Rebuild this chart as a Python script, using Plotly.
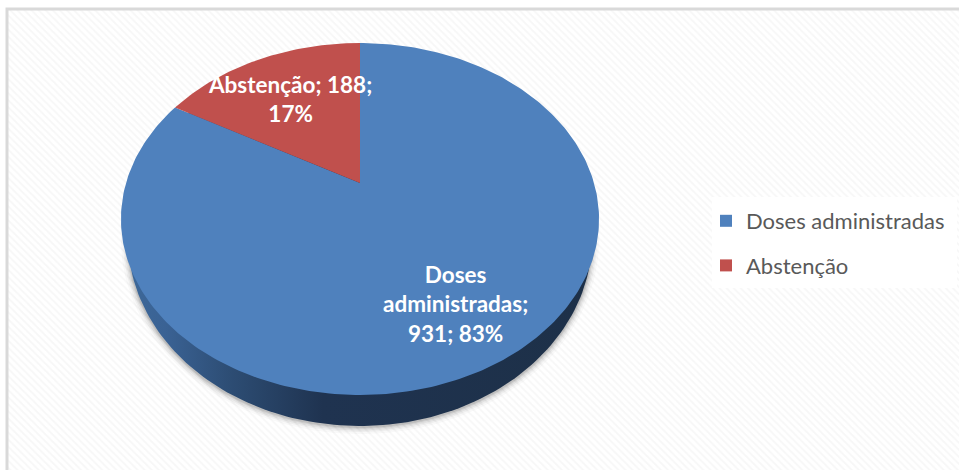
import numpy as np
import plotly.graph_objects as go

categories = ["Doses administradas", "Abstenção"]
values = [931, 188]
colors = ["#4f81bd", "#c0504d"]
label_pos = [(455, 304), (290, 99)]
label_text = ["Doses<br>administradas;<br>{v}; {p}%", "Abstenção; {v};<br>{p}%"]

W, H = 959, 470
APEX = (360, 183)
A, B, K = 234.0, 168.6, 0.2045


def project(theta):
    u, v = np.sin(theta), np.cos(theta)
    d = 1 + K * v
    return APEX[0] + A * u / d, APEX[1] - B * v / d


def ellipse(cx, cy, a, b, n=240):
    t = np.linspace(0, 2 * np.pi, n)
    return cx + a * np.cos(t), cy + b * np.sin(t)


fig = go.Figure()

# hatched chart area
fig.add_trace(go.Scatter(
    x=[8, W + 2, W + 2, 8, 8], y=[10, 10, H + 2, H + 2, 10], mode="lines",
    line=dict(width=0), fill="toself", fillcolor="#ffffff",
    fillpattern=dict(shape="\\", fgcolor="#efefef", bgcolor="#ffffff", size=5, solidity=0.35),
    hoverinfo="skip", showlegend=False))

# soft shadow
for grow, alpha in [(7, 0.03), (5, 0.05), (3.5, 0.07), (2, 0.09), (1, 0.12)]:
    sx, sy = ellipse(360, 240, 232 + grow, 187 + grow)
    fig.add_trace(go.Scatter(x=sx, y=sy, mode="lines", line=dict(width=0), fill="toself",
                             fillcolor=f"rgba(60,60,60,{alpha})", hoverinfo="skip", showlegend=False))

# side wall
wx, wy = ellipse(360, 239, 232, 187)
fig.add_trace(go.Scatter(
    x=wx, y=wy, mode="lines", line=dict(width=0), fill="toself",
    fillgradient=dict(type="horizontal", colorscale=[
        [0, "#3d6899"], [0.08, "#3a6294"], [0.22, "#2d4d74"], [0.42, "#1f3350"], [1, "#1d3048"]]),
    hoverinfo="skip", showlegend=False))

# top face slices, computed from the values
total = sum(values)
start = 0.0
for name, val, col in zip(categories, values, colors):
    end = start + val / total * 2 * np.pi
    n = max(int(val / total * 360), 8)
    px, py = project(np.linspace(start, end, n))
    fig.add_trace(go.Scatter(
        x=np.r_[APEX[0], px, APEX[0]], y=np.r_[APEX[1], py, APEX[1]],
        mode="lines", line=dict(width=0), fill="toself", fillcolor=col,
        name=name, hoverinfo="name", showlegend=False))
    start = end

# legend entries
for name, col in zip(categories, colors):
    fig.add_trace(go.Scatter(x=[None], y=[None], mode="markers", name=name, legendgroup=name,
                             marker=dict(symbol="square", size=12, color=col)))

for (lx, ly), tmpl, val in zip(label_pos, label_text, values):
    fig.add_annotation(x=lx, y=ly, xref="x", yref="y", showarrow=False,
                       text="<b>" + tmpl.format(v=val, p=round(val / total * 100)) + "</b>",
                       font=dict(family="Lato, Carlito, sans-serif", size=22.5, color="#ffffff"),
                       align="center")

fig.update_layout(
    width=W, height=H, margin=dict(l=0, r=0, t=0, b=0),
    paper_bgcolor="#ffffff", plot_bgcolor="rgba(0,0,0,0)",
    xaxis=dict(range=[0, W], visible=False, fixedrange=True),
    yaxis=dict(range=[H, 0], visible=False, fixedrange=True),
    legend=dict(x=706 / W, y=1 - 200 / H, xanchor="left", yanchor="top",
                bgcolor="rgba(0,0,0,0)", borderwidth=0,
                font=dict(family="Lato, Carlito, sans-serif", size=22, color="#595959"),
                itemwidth=30, tracegroupgap=13),
    shapes=[dict(type="rect", xref="x", yref="y", x0=7, y0=9, x1=W + 5, y1=H + 5,
                 line=dict(color="#d9d9d9", width=3), layer="above"),
            dict(type="rect", xref="x", yref="y", x0=712, y0=197, x1=957, y1=288,
                 line=dict(width=0), fillcolor="#ffffff", layer="above")],
)
fig.write_html("out.html", config={"displayModeBar": False},
               post_script="document.body.style.margin='0';")
